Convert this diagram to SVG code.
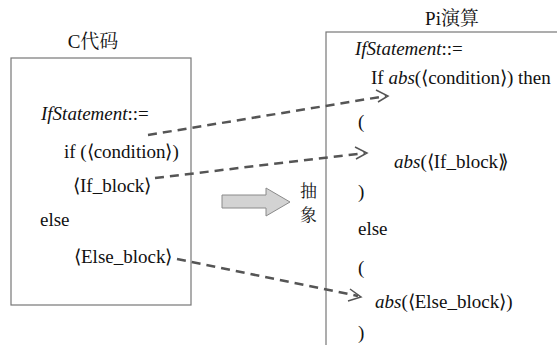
<svg xmlns="http://www.w3.org/2000/svg" width="557" height="345" viewBox="0 0 557 345">
<style>
.i{font-style:italic}
.box{fill:none;stroke:#777;stroke-width:1.2}
.dash{fill:none;stroke:#555;stroke-width:2.5;stroke-dasharray:9,6}
.head{fill:none;stroke:#555;stroke-width:1.5}
</style>
<rect width="557" height="345" fill="#fff"/>
<g id="c-code" font-family="Liberation Serif, Noto Serif CJK SC, serif" font-size="19" fill="#111">
<rect class="box" x="11" y="58" width="180" height="247"/>
<text x="93" y="48" text-anchor="middle">C代码</text>
<text x="41" y="120"><tspan class="i">IfStatement</tspan>::=</text>
<text x="64" y="158">if (⟨condition⟩)</text>
<text x="73" y="192">⟨If_block⟩</text>
<text x="40" y="226">else</text>
<text x="74" y="263">⟨Else_block⟩</text>
</g>
<g id="pi-calculus" font-family="Liberation Serif, Noto Serif CJK SC, serif" font-size="19" fill="#111">
<rect class="box" x="326" y="32" width="240" height="330"/>
<text x="452" y="25" text-anchor="middle">Pi演算</text>
<text x="355" y="55"><tspan class="i">IfStatement</tspan>::=</text>
<text x="371" y="84">If <tspan class="i">abs</tspan>(⟨condition⟩) then</text>
<text x="358" y="128">(</text>
<text x="394" y="168"><tspan class="i">abs</tspan>(⟨If_block⟫</text>
<text x="358" y="198">)</text>
<text x="358" y="235">else</text>
<text x="358" y="274">(</text>
<text x="375" y="308"><tspan class="i">abs</tspan>(⟨Else_block⟩)</text>
<text x="358" y="339">)</text>
</g>
<g id="abstraction" font-family="Noto Serif CJK SC, serif" font-size="17" fill="#111">
<path d="M222,195 H266 V188 L290,202 L266,216 V208 H222 Z" fill="#d3d3d3" stroke="#8a8a8a" stroke-width="1"/>
<text x="300" y="197">抽</text>
<text x="300" y="221">象</text>
</g>
<g id="connectors">
<path class="dash" d="M148,135 L386,96"/>
<path class="head" d="M376,90 L388,96 L378,102"/>
<path class="dash" d="M155,178 L365,153"/>
<path class="head" d="M355,147 L367,153 L356,159"/>
<path class="dash" d="M177,259 L358,296"/>
<path class="head" d="M350,289 L361,297 L348,301"/>
</g>
</svg>
